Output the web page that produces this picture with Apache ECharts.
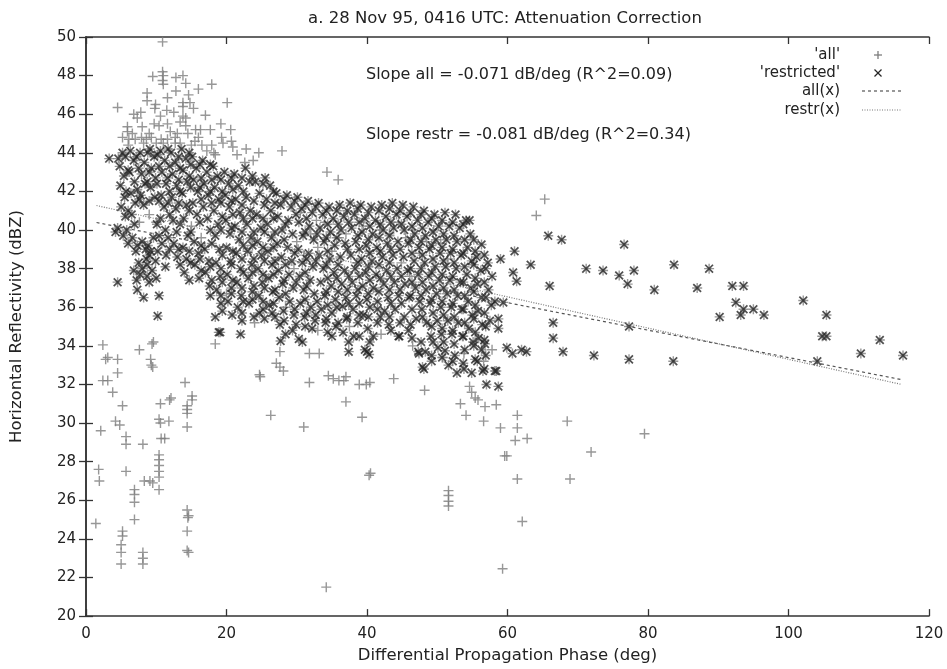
<!DOCTYPE html>
<html>
<head>
<meta charset="utf-8">
<script src="https://cdn.jsdelivr.net/npm/echarts@6/dist/echarts.min.js"></script>
<style>html,body{margin:0;padding:0;background:#fff}#c{width:947px;height:669px}</style>
</head>
<body>
<div id="c"></div>
<script>
// ---- Data ----
const titleText = "a. 28 Nov 95, 0416 UTC: Attenuation Correction";
const xName = "Differential Propagation Phase (deg)";
const yName = "Horizontal Reflectivity (dBZ)";
const slopeAllText = "Slope all = -0.071 dB/deg (R^2=0.09)";
const slopeRestrText = "Slope restr = -0.081 dB/deg (R^2=0.34)";
const legendNames = ["'all'", "'restricted'", "all(x)", "restr(x)"];
const xTicks = [0, 20, 40, 60, 80, 100, 120];
const yTicks = [20, 22, 24, 26, 28, 30, 32, 34, 36, 38, 40, 42, 44, 46, 48, 50];

// points that are only in 'all' (not restricted)
const allOnlyPoints = [
 [10.9,49.75],[10.9,48.2],[11.0,48.0],[9.5,47.95],[10.9,47.75],[11.0,47.55],[12.8,47.9],[13.8,48.0],[14.2,47.6],[16.0,47.3],[17.9,47.55],
 [8.7,47.1],[8.7,46.7],[12.8,47.2],[11.6,46.85],[14.6,47.0],[14.8,46.6],[15.3,46.3],[9.9,46.5],[9.8,46.3],[4.5,46.35],[11.5,46.2],
 [12.5,46.1],[13.8,46.6],[13.8,46.4],[20.1,46.6],[17.0,45.95],[6.8,46.0],[7.3,45.8],[7.8,46.1],[10.6,45.9],[13.8,45.9],[14.2,45.8],
 [9.7,45.5],[10.4,45.4],[11.6,45.5],[13.4,45.6],[14.2,45.4],[5.9,45.35],[5.9,45.1],[8.0,45.35],[15.6,45.2],[16.3,45.2],[17.7,45.2],
 [19.2,45.5],[20.6,45.2],[5.2,44.8],[6.1,44.7],[7.0,44.7],[7.9,44.8],[8.6,44.7],[9.3,44.8],[10.7,44.7],[11.6,44.7],[12.7,44.8],
 [12.7,44.5],[13.4,44.5],[16.0,44.8],[16.5,44.4],[17.9,44.4],[19.3,44.8],[19.5,44.5],[20.7,44.6],[20.9,44.3],[22.8,44.2],[22.6,43.5],
 [18.4,43.9],[17.2,44.1],[15.0,44.4],[10.0,44.5],[14.5,45.0],[12.0,45.1],[6.6,45.0],[9.0,45.0],[27.9,44.1],[24.6,44.0],[34.3,43.0],[35.9,42.6],
 [2.4,34.05],[2.8,33.3],[3.1,33.4],[4.5,33.3],[2.4,32.2],[3.1,32.2],[4.5,32.6],[3.8,31.6],[5.2,30.9],[4.2,30.1],[4.8,29.9],[2.1,29.6],
 [5.7,29.3],[5.7,28.9],[1.8,27.6],[1.9,27.0],[5.7,27.5],[1.4,24.8],[5.2,24.4],[5.2,24.15],[5.0,23.7],[5.0,23.3],[5.0,22.7],
 [6.9,26.55],[6.9,26.3],[6.9,25.9],[6.9,25.0],[8.1,28.9],[7.6,33.8],[8.3,27.0],[9.1,27.0],[9.5,26.9],[8.1,23.3],[8.1,23.0],[8.1,22.7],
 [9.2,33.3],[9.3,33.0],[9.5,32.9],[9.6,34.2],[9.4,34.1],[10.4,28.35],[10.4,28.1],[10.4,27.8],[10.4,27.5],[10.4,27.2],[10.4,26.55],
 [10.4,30.2],[10.6,30.0],[10.6,31.0],[10.7,29.2],[11.2,29.2],[11.9,31.2],[12.1,31.3],[11.8,30.1],[14.1,32.1],[14.4,30.9],[14.4,30.7],
 [14.4,30.5],[14.4,29.8],[15.1,31.4],[15.1,31.2],[14.4,25.5],[14.5,25.1],[14.6,25.2],[14.4,24.4],[14.4,23.4],[14.6,23.3],[18.4,34.1],
 [24.7,32.5],[26.3,30.4],[27.1,33.1],[27.6,32.9],[28.1,32.7],[27.6,33.7],[31.8,33.6],[33.2,33.6],[31.8,32.1],[31.0,29.8],[34.5,32.45],
 [35.2,32.3],[36.0,32.2],[36.7,32.2],[37.0,32.4],[37.0,31.1],[38.9,32.0],[34.2,21.5],[24.8,32.4],[40.4,32.1],[39.9,32.0],[43.8,32.3],
 [48.2,31.7],[39.3,30.3],[40.3,27.3],[40.5,27.4],[54.6,31.9],[54.9,31.6],[55.4,31.3],[55.8,31.2],[53.3,31.0],[56.8,30.85],[58.4,30.95],
 [54.1,30.4],[56.6,30.1],[59.0,29.75],[61.1,29.1],[62.8,29.2],[61.4,30.4],[61.4,29.75],[59.6,28.3],[59.9,28.3],[61.4,27.1],[68.5,30.1],
 [71.9,28.5],[68.9,27.1],[79.5,29.45],[51.6,26.5],[51.6,26.25],[51.6,25.95],[51.6,25.7],[62.1,24.9],[59.3,22.45],[65.3,41.6],[64.1,40.75],
 [30.0,39.4],[31.0,38.7],[32.0,39.8],[33.0,39.1],[34.0,40.4],[35.0,38.9],[36.0,39.6],[30.5,40.9],[32.8,40.5],[29.6,38.0],[44.5,40.4],
 [45.5,39.6],[46.5,40.0],[47.5,38.8],[48.5,39.4],[49.5,40.0],[50.5,39.3],[51.5,38.5],[44.9,38.3],[46.1,37.6],[13.0,45.0],[11.0,44.5],
 [8.2,44.5],[6.0,44.4],[15.5,44.6],[18.2,44.0],[21.5,43.9],[23.8,43.6],[10.0,40.4],[9.0,40.8],[7.6,40.4],[15.0,40.2],[16.4,39.6],
 [20.0,36.7],[24.0,35.2],[28.4,36.0],[33.0,34.8],[37.5,35.0],[42.0,34.6],[46.5,34.0],[50.8,33.4],[53.8,33.6],[56.6,33.2],[57.8,33.8],
 [41.8,40.0],[39.5,40.2],[37.0,39.8],[38.5,38.3],[40.3,38.9],[43.2,39.8]
];

// points in the 'restricted' set (also part of 'all')
const restrictedPoints = [
 [3.3,43.7],[4.6,43.7],[4.5,37.3],[7.3,36.9],[8.2,36.5],[10.2,35.55],[10.4,36.6],[11.3,38.1],[8.5,39.0],[18.4,35.5],[18.9,34.7],[22.0,34.6],[19.1,34.7],
 [5.2,44.0],[4.8,43.3],[5.4,42.8],[4.9,42.3],[5.5,41.7],[5.0,41.2],[5.6,40.7],[4.5,40.1],[5.3,39.7],[6.0,39.3],[4.2,39.9],
 [6.3,44.1],[6.8,43.6],[6.2,43.0],[6.9,42.5],[6.4,41.9],[7.0,41.4],[6.5,40.8],[6.9,40.3],[6.6,39.6],[7.1,38.9],[6.8,37.9],[7.2,37.4],
 [7.7,44.0],[8.3,43.5],[7.9,42.9],[8.4,42.4],[7.8,41.8],[8.2,41.3],[8.0,39.4],[8.6,38.5],[8.0,38.0],[8.7,37.6],
 [9.1,44.2],[9.7,43.8],[9.3,43.2],[9.9,42.7],[9.2,42.2],[9.8,41.7],[9.6,39.6],[9.2,38.9],[9.9,38.4],[9.4,37.9],[10.0,37.5],
 [10.6,44.1],[11.2,43.6],[10.8,43.0],[11.4,42.4],[10.7,41.8],[11.1,41.2],[10.6,40.6],[11.3,40.0],[10.8,39.3],[11.4,38.7],
 [12.1,44.0],[12.7,43.5],[12.3,42.9],[12.9,42.3],[12.2,41.7],[12.8,41.1],[12.4,40.5],[12.9,39.9],[12.5,39.3],[13.0,38.6],
 [13.6,44.2],[14.2,43.7],[13.8,43.1],[14.4,42.5],[13.7,41.9],[14.3,41.3],[13.9,40.6],[14.5,39.7],[13.8,39.1],[14.3,38.5],[14.0,37.8],
 [15.1,43.8],[15.7,43.2],[15.3,42.6],[15.9,42.0],[15.2,41.4],[15.8,40.8],[15.4,39.4],[16.0,38.8],[15.5,38.2],[16.1,37.5],
 [16.6,43.6],[17.2,43.0],[16.8,42.4],[17.4,41.8],[16.7,41.2],[17.3,40.6],[16.9,39.0],[17.5,38.4],[17.0,37.8],[17.6,37.1],
 [18.1,43.3],[18.7,42.8],[18.3,42.2],[18.9,41.6],[18.2,41.0],[18.8,40.3],[18.4,39.7],[19.0,39.0],[18.5,38.3],[19.1,37.6],[18.6,36.9],[19.2,36.2],
 [19.7,43.0],[20.3,42.4],[19.8,41.8],[20.4,41.2],[19.9,40.5],[20.5,39.8],[20.0,39.1],[20.6,38.4],[20.1,37.7],[20.7,37.0],[20.2,36.3],[20.8,35.6],
 [21.1,42.9],[21.7,42.3],[21.3,41.6],[21.9,40.9],[21.2,40.2],[21.8,39.5],[21.4,38.8],[22.0,38.0],[21.5,37.3],[22.1,36.6],[21.6,36.0],[22.2,35.3],
 [22.7,43.2],[23.3,42.5],[22.8,41.7],[23.4,41.0],[22.9,40.3],[23.5,39.6],[23.0,38.9],[23.6,38.2],[23.1,37.5],[23.7,36.8],[23.2,36.2],
 [24.1,42.5],[24.7,41.9],[24.3,40.8],[24.9,40.1],[24.4,39.4],[25.0,38.7],[24.5,38.0],[25.1,37.3],[24.6,36.6],[25.2,35.9],[24.7,35.7],
 [25.5,42.7],[26.2,42.3],[25.7,41.6],[26.3,41.0],[25.8,40.3],[26.4,39.6],[25.9,38.9],[26.5,38.2],[26.0,37.5],[26.6,36.8],[26.1,36.1],[26.5,35.7],
 [27.1,41.9],[27.7,41.3],[27.3,40.7],[27.9,40.0],[27.2,39.3],[27.8,38.6],[27.4,37.9],[28.0,37.2],[27.5,36.5],[28.1,35.8],[27.6,35.1],[27.7,34.25],
 [28.6,41.8],[29.2,41.2],[28.8,40.5],[29.4,39.8],[28.7,39.1],[29.3,38.4],[28.9,37.7],[29.5,37.0],[29.0,36.3],[29.6,35.6],[29.4,34.8],
 [30.1,41.7],[30.7,41.1],[30.3,40.4],[30.9,39.7],[30.2,39.0],[30.8,38.3],[30.4,37.6],[31.0,36.9],[30.5,36.2],[31.1,35.5],[30.3,34.35],[30.8,34.2],
 [31.6,41.5],[32.2,40.9],[31.8,40.2],[32.4,39.5],[31.7,38.8],[32.3,38.1],[31.9,37.4],[32.5,36.7],[32.0,36.0],[32.6,35.3],[32.2,34.9],
 [33.1,41.4],[33.7,40.8],[33.3,40.1],[33.9,39.4],[33.2,38.7],[33.8,38.0],[33.4,37.3],[34.0,36.6],[33.5,35.9],[34.1,35.2],
 [34.6,41.2],[35.2,40.6],[34.8,39.9],[35.4,39.2],[34.7,38.5],[35.3,37.8],[34.9,37.1],[35.5,36.4],[35.0,35.7],[35.6,35.0],[35.0,34.5],
 [36.1,41.3],[36.7,40.7],[36.3,40.0],[36.9,39.3],[36.2,38.6],[36.8,37.9],[36.4,37.2],[37.0,36.5],[36.5,36.05],[37.1,35.4],[36.6,34.7],
 [37.6,41.4],[38.2,40.8],[37.8,40.1],[38.4,39.4],[37.7,38.7],[38.3,38.0],[37.9,37.3],[38.5,36.6],[38.0,35.9],[38.9,35.6],[37.4,33.7],[38.1,34.5],
 [39.1,41.3],[39.7,40.6],[39.3,39.9],[39.9,39.2],[39.2,38.5],[39.8,37.8],[39.4,37.1],[40.0,36.4],[39.5,35.6],[40.1,34.9],[39.7,33.8],[40.3,33.55],[40.0,33.7],
 [40.6,41.2],[41.2,40.5],[40.8,39.8],[41.4,39.1],[40.7,38.4],[41.3,37.7],[40.9,37.0],[41.5,36.3],[41.5,35.9],[41.5,35.2],[40.9,34.5],
 [42.1,41.3],[42.7,40.7],[42.3,40.0],[42.9,39.3],[42.2,38.6],[42.8,37.9],[42.4,37.2],[43.0,36.5],[42.5,35.8],[43.1,35.1],
 [43.6,41.4],[44.2,40.8],[43.8,40.1],[44.4,39.4],[43.7,38.7],[44.3,38.0],[43.9,37.3],[44.5,36.6],[44.0,35.9],[44.5,34.5],[44.6,34.5],
 [45.1,41.3],[45.7,40.7],[45.3,40.0],[45.9,39.3],[45.2,38.6],[45.8,37.9],[45.4,37.2],[46.0,36.5],[45.3,35.5],[45.9,34.8],
 [46.6,41.2],[47.2,40.5],[46.8,39.8],[47.4,39.1],[46.7,38.4],[47.3,37.7],[46.9,37.0],[47.5,36.3],[47.8,35.9],[47.0,35.4],[47.4,33.6],[47.3,33.7],
 [48.1,41.0],[48.7,40.4],[48.3,39.7],[48.9,39.0],[48.2,38.3],[48.8,37.6],[48.4,36.9],[49.0,36.2],[48.5,35.2],[49.1,34.5],[48.3,33.7],[48.1,32.8],[47.9,32.9],[49.2,33.2],
 [49.6,40.8],[50.2,40.2],[49.8,39.5],[50.4,38.8],[49.7,38.1],[50.3,37.4],[49.9,36.7],[50.5,36.0],[50.0,35.3],[50.6,34.6],[50.1,33.9],
 [51.1,40.9],[51.7,40.2],[51.3,39.5],[51.9,38.8],[51.2,38.1],[51.8,37.4],[51.4,36.7],[52.0,36.0],[51.5,35.3],[52.1,34.6],[51.1,33.75],[51.6,33.0],
 [52.6,40.8],[53.2,40.1],[52.8,39.4],[53.4,38.7],[52.7,38.0],[53.3,37.3],[52.9,36.6],[53.5,35.9],[53.0,35.2],[53.6,34.5],[52.5,33.5],[52.8,32.6],[53.8,32.8],
 [54.1,40.5],[54.6,40.5],[54.7,39.8],[54.3,39.1],[54.9,38.4],[54.2,37.7],[54.8,37.0],[54.4,36.3],[55.0,35.6],[54.5,34.9],[55.1,34.2],[54.9,32.6],[55.7,33.2],
 [56.3,39.25],[55.6,38.6],[56.2,37.9],[55.7,37.2],[56.3,36.5],[55.8,35.8],[56.4,35.1],[55.9,34.4],[56.3,33.8],[56.8,34.1],[56.5,32.7],
 [57.2,38.3],[57.8,37.6],[57.3,36.9],[57.7,36.1],[58.2,36.3],[58.7,35.4],[58.7,34.9],[57.5,35.3],[58.2,32.7],[57.0,32.0],[58.7,31.9],[58.4,32.7],[59.0,38.5],
 [61.0,38.9],[63.3,38.2],[60.8,37.8],[61.3,37.35],[66.0,37.1],[65.8,39.7],[67.7,39.5],[71.2,38.0],[73.6,37.9],[75.9,37.65],[78.0,37.9],
 [77.1,37.2],[76.6,39.25],[80.9,36.9],[83.7,38.2],[87.0,37.0],[88.7,38.0],[92.0,37.1],[93.6,37.1],[92.5,36.25],[93.6,35.9],[95.0,35.9],
 [93.2,35.6],[96.5,35.6],[90.2,35.5],[102.1,36.35],[105.4,35.6],[104.8,34.5],[105.4,34.5],[113.0,34.3],[110.3,33.6],[116.3,33.5],
 [104.1,33.2],[77.3,35.0],[66.5,35.2],[66.5,34.4],[67.9,33.7],[72.3,33.5],[77.3,33.3],[83.6,33.2],[59.9,33.9],[60.7,33.6],[62.0,33.8],
 [62.7,33.7],[59.4,36.25],
 // in-between points of the dense cloud
 [5.6,43.8],[6.0,43.1],[5.7,42.0],[6.0,41.0],[5.8,40.0],
 [7.2,43.8],[7.5,43.2],[7.3,42.1],[7.6,41.6],[7.3,39.2],[7.5,38.3],[7.7,37.7],
 [8.8,44.0],[9.0,43.0],[8.7,42.5],[9.0,41.5],[8.8,39.2],[9.0,38.7],[8.7,38.2],[9.0,37.3],
 [10.2,43.9],[10.4,43.3],[10.1,42.4],[10.4,41.5],[10.1,40.3],[10.4,39.7],[10.2,38.9],
 [11.7,44.2],[11.9,43.3],[11.6,42.7],[11.9,42.0],[11.7,41.4],[11.9,40.8],[11.7,39.6],[11.9,39.0],
 [13.2,43.8],[13.4,43.2],[13.2,42.6],[13.4,42.0],[13.2,41.4],[13.4,40.3],[13.2,39.0],[13.4,38.2],
 [14.7,44.0],[14.9,43.4],[14.7,42.8],[14.9,42.2],[14.7,41.0],[14.9,39.9],[14.7,38.9],[14.9,38.3],[14.7,37.4],
 [16.2,43.4],[16.4,42.7],[16.2,42.2],[16.4,41.6],[16.2,40.4],[16.4,39.2],[16.2,38.5],[16.4,37.9],
 [17.7,43.4],[17.9,42.6],[17.7,42.0],[17.9,41.4],[17.7,40.0],[17.9,39.3],[17.7,38.1],[17.9,37.4],[17.7,36.6],
 [19.2,42.6],[19.4,42.0],[19.2,41.4],[19.4,40.7],[19.2,40.0],[19.4,38.7],[19.2,38.0],[19.4,37.3],[19.2,36.6],[19.4,35.8],
 [20.7,42.7],[20.9,42.1],[20.7,41.5],[20.9,40.8],[20.7,40.1],[20.9,38.9],[20.7,38.2],[20.9,37.4],[20.7,36.7],
 [22.2,42.7],[22.4,42.0],[22.2,41.3],[22.4,40.6],[22.2,39.9],[22.4,39.2],[22.2,38.5],[22.4,37.8],[22.2,37.0],[22.4,36.3],[22.2,35.7],
 [23.7,42.8],[23.9,41.5],[23.7,40.6],[23.9,39.9],[23.7,39.2],[23.9,38.5],[23.7,37.8],[23.9,37.1],[23.7,36.4],[23.9,35.5],
 [25.2,42.4],[25.4,41.3],[25.2,40.6],[25.4,39.9],[25.2,39.1],[25.4,38.4],[25.2,37.7],[25.4,37.0],[25.2,36.3],[25.4,35.4],
 [26.7,42.0],[26.9,41.4],[26.7,40.6],[26.9,39.9],[26.7,39.1],[26.9,38.4],[26.7,37.7],[26.9,36.9],[26.7,36.2],[26.9,35.5],
 [28.2,41.6],[28.4,40.3],[28.2,39.5],[28.4,38.2],[28.2,37.4],[28.4,36.7],[28.2,35.3],[28.4,34.6],
 [29.7,41.5],[29.9,40.8],[29.7,38.8],[29.9,37.3],[29.7,35.9],[29.9,35.1],
 [31.2,41.3],[31.4,40.6],[31.2,39.9],[31.4,38.5],[31.2,37.8],[31.4,37.1],[31.2,36.4],[31.4,35.7],[31.2,35.0],
 [32.7,41.2],[32.9,39.8],[32.7,38.4],[32.9,36.3],[32.7,35.6],
 [34.2,41.0],[34.4,40.3],[34.2,39.6],[34.4,38.9],[34.2,38.2],[34.4,37.5],[34.2,36.8],[34.4,36.1],[34.2,35.4],[34.4,34.7],
 [35.7,41.0],[35.9,40.3],[35.7,39.6],[35.9,38.2],[35.7,37.5],[35.9,36.8],[35.7,36.0],[35.9,35.2],
 [37.2,41.0],[37.4,40.4],[37.2,39.0],[37.4,37.6],[37.2,36.9],[37.4,36.2],[37.2,35.5],[37.4,34.2],
 [38.7,41.1],[38.9,40.4],[38.7,39.7],[38.9,39.0],[38.7,38.3],[38.9,37.6],[38.7,36.9],[38.9,36.2],[38.7,35.2],[38.9,34.5],
 [40.2,40.9],[40.4,40.2],[40.2,39.5],[40.4,38.8],[40.2,38.1],[40.4,37.4],[40.2,36.7],[40.4,36.0],[40.2,35.5],[40.4,34.2],
 [41.7,41.0],[41.9,40.3],[41.7,39.6],[41.9,38.9],[41.7,38.2],[41.9,37.5],[41.7,36.8],[41.9,35.5],
 [43.2,41.1],[43.4,40.4],[43.2,39.7],[43.4,39.0],[43.2,38.3],[43.4,37.6],[43.2,36.9],[43.4,36.2],[43.2,35.5],[43.4,34.8],
 [44.7,41.0],[44.9,40.3],[44.7,39.0],[44.9,37.6],[44.7,36.9],[44.9,36.2],[44.7,35.2],
 [46.2,40.9],[46.4,40.2],[46.2,39.5],[46.4,38.8],[46.2,38.0],[46.4,37.3],[46.2,36.6],[46.4,35.9],[46.2,35.1],[46.4,34.4],
 [47.7,40.8],[47.9,40.1],[47.7,39.4],[47.9,38.7],[47.7,38.0],[47.9,37.3],[47.7,36.6],[47.9,35.5],[47.7,34.2],
 [49.2,40.6],[49.4,39.9],[49.2,39.2],[49.4,38.5],[49.2,37.8],[49.4,37.1],[49.2,36.4],[49.4,35.7],[49.2,35.0],[49.4,34.2],[49.2,33.5],
 [50.7,40.5],[50.9,39.8],[50.7,39.1],[50.9,38.4],[50.7,37.7],[50.9,37.0],[50.7,36.3],[50.9,35.6],[50.7,34.9],[50.9,34.2],[50.7,33.4],
 [52.2,40.4],[52.4,39.7],[52.2,39.0],[52.4,38.3],[52.2,37.6],[52.4,36.9],[52.2,36.2],[52.4,35.5],[52.2,34.8],[52.4,34.1],[52.2,33.2],
 [53.7,40.3],[53.9,39.5],[53.7,38.8],[53.9,38.1],[53.7,37.3],[53.9,36.6],[53.7,35.9],[53.9,35.2],[53.7,34.5],[53.9,33.8],[53.7,33.1],
 [55.2,39.5],[55.4,38.9],[55.2,38.2],[55.4,37.5],[55.2,36.8],[55.4,36.1],[55.2,35.4],[55.4,34.7],[55.2,34.0],[55.4,33.3],
 [56.7,38.7],[56.9,38.0],[56.7,37.3],[56.9,36.5],[56.7,35.7],[56.9,35.0],[56.7,34.3],[56.9,33.5],[56.7,32.8]
];

// fitted lines, read at their two ends
const allFitX = [1.5, 116.1];
const allFitY = [40.39, 32.25];
const restrFitX = [1.5, 116.1];
const restrFitY = [41.27, 32.0];

// ---- Chart ----
const allPoints = allOnlyPoints.concat(restrictedPoints);
const zip = (xs, ys) => xs.map((x, i) => [x, ys[i]]);
const PLUS = 'path://M0,4.3H10V5.7H0Z M4.3,0H5.7V10H4.3Z';
const CROSS = 'path://M0,4.2H10V5.8H0Z M4.2,0H5.8V10H4.2Z';
const FONT = '"DejaVu Sans", "Liberation Sans", Arial, sans-serif';
const TXT = '#222';
const FS = 16.5;
const FS_NOTE = 16;
const FS_LEG = 15;

const chart = echarts.init(document.getElementById('c'), null, {renderer: 'canvas'});

const axisCommon = {
  axisLine: {show: true, lineStyle: {color: '#333', width: 1.5}},
  axisTick: {show: true, inside: true, length: 7, lineStyle: {color: '#333', width: 1.3}},
  splitLine: {show: false}
};

chart.setOption({
  animation: false,
  backgroundColor: '#fff',
  grid: {left: 83, right: 18, top: 37, bottom: 51},
  xAxis: [
    Object.assign({
      type: 'value', min: xTicks[0], max: xTicks[xTicks.length - 1], interval: 20,
      name: xName, nameLocation: 'middle', nameGap: 29,
      nameTextStyle: {fontFamily: FONT, fontSize: FS, color: TXT},
      axisLabel: {fontFamily: FONT, fontSize: 15, color: TXT, margin: 11}
    }, axisCommon),
    Object.assign({
      type: 'value', position: 'top', min: xTicks[0], max: xTicks[xTicks.length - 1], interval: 20,
      axisLabel: {show: false}
    }, axisCommon)
  ],
  yAxis: [
    Object.assign({
      type: 'value', min: yTicks[0], max: yTicks[yTicks.length - 1], interval: 2,
      name: yName, nameLocation: 'middle', nameGap: 61,
      nameTextStyle: {fontFamily: FONT, fontSize: FS, color: TXT},
      axisLabel: {fontFamily: FONT, fontSize: 15, color: TXT, margin: 10}
    }, axisCommon),
    Object.assign({
      type: 'value', position: 'right', min: yTicks[0], max: yTicks[yTicks.length - 1], interval: 2,
      axisLabel: {show: false}
    }, axisCommon)
  ],
  series: [
    {
      name: legendNames[0], type: 'scatter', data: allPoints,
      symbol: PLUS, symbolSize: 10,
      itemStyle: {color: '#7d7d7d'}, z: 2, silent: true
    },
    {
      name: legendNames[1], type: 'scatter', data: restrictedPoints,
      symbol: CROSS, symbolSize: 11, symbolRotate: 45,
      itemStyle: {color: '#262626'}, z: 3, silent: true
    },
    {
      name: legendNames[2], type: 'line', data: zip(allFitX, allFitY),
      showSymbol: false, symbol: 'none',
      lineStyle: {color: '#555', width: 1.2, type: [3, 3]}, z: 4, silent: true
    },
    {
      name: legendNames[3], type: 'line', data: zip(restrFitX, restrFitY),
      showSymbol: false, symbol: 'none',
      lineStyle: {color: '#777', width: 1.2, type: [1, 1.5]}, z: 4, silent: true
    }
  ],
  graphic: [
    {type: 'text', x: 505, y: 19, z: 10,
     style: {text: titleText, fontFamily: FONT, fontSize: FS, fill: TXT, align: 'center', verticalAlign: 'middle'}},
    {type: 'text', x: 366, y: 75, z: 10,
     style: {text: slopeAllText, fontFamily: FONT, fontSize: FS_NOTE, fill: TXT, verticalAlign: 'middle'}},
    {type: 'text', x: 366, y: 135, z: 10,
     style: {text: slopeRestrText, fontFamily: FONT, fontSize: FS_NOTE, fill: TXT, verticalAlign: 'middle'}},
    {type: 'text', x: 840, y: 55, z: 10, style: {text: legendNames[0], fontFamily: FONT, fontSize: FS_LEG, fill: TXT, align: 'right', verticalAlign: 'middle'}},
    {type: 'text', x: 840, y: 73, z: 10, style: {text: legendNames[1], fontFamily: FONT, fontSize: FS_LEG, fill: TXT, align: 'right', verticalAlign: 'middle'}},
    {type: 'text', x: 840, y: 91, z: 10, style: {text: legendNames[2], fontFamily: FONT, fontSize: FS_LEG, fill: TXT, align: 'right', verticalAlign: 'middle'}},
    {type: 'text', x: 840, y: 110, z: 10, style: {text: legendNames[3], fontFamily: FONT, fontSize: FS_LEG, fill: TXT, align: 'right', verticalAlign: 'middle'}},
    {type: 'line', z: 10, shape: {x1: 874, y1: 55, x2: 882, y2: 55}, style: {stroke: '#7d7d7d', lineWidth: 1.3}},
    {type: 'line', z: 10, shape: {x1: 878, y1: 51, x2: 878, y2: 59}, style: {stroke: '#7d7d7d', lineWidth: 1.3}},
    {type: 'line', z: 10, shape: {x1: 874.5, y1: 69.5, x2: 881.5, y2: 76.5}, style: {stroke: '#262626', lineWidth: 1.3}},
    {type: 'line', z: 10, shape: {x1: 874.5, y1: 76.5, x2: 881.5, y2: 69.5}, style: {stroke: '#262626', lineWidth: 1.3}},
    {type: 'line', z: 10, shape: {x1: 862, y1: 91, x2: 902, y2: 91}, style: {stroke: '#555', lineWidth: 1.2, lineDash: [3, 3]}},
    {type: 'line', z: 10, shape: {x1: 862, y1: 110, x2: 902, y2: 110}, style: {stroke: '#777', lineWidth: 1.2, lineDash: [1, 1.5]}}
  ]
});
</script>
</body>
</html>
